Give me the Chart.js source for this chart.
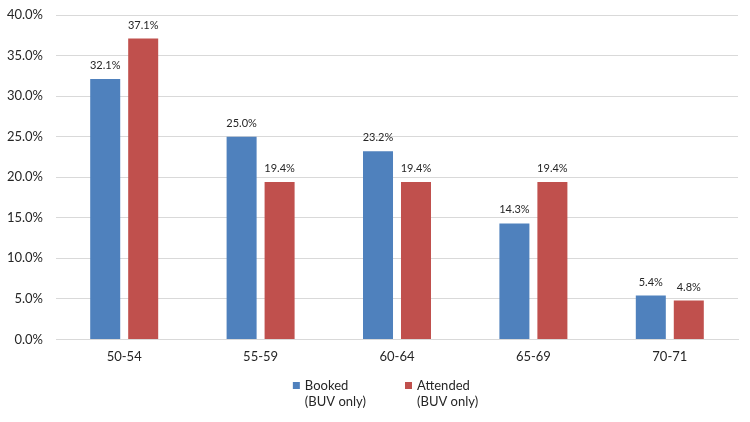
<!DOCTYPE html>
<html>
<head>
<meta charset="utf-8">
<script src="https://cdn.jsdelivr.net/npm/chart.js@4.4.1/dist/chart.umd.min.js"></script>
<style>
  html, body { margin: 0; padding: 0; background: #fff; }
  #wrap { width: 750px; height: 422px; position: relative; }
</style>
</head>
<body>
<div id="wrap"><canvas id="chart"></canvas></div>
<script>
const ageGroups = ["50-54", "55-59", "60-64", "65-69", "70-71"];
const bookedPct = [32.1, 25.0, 23.2, 14.3, 5.4];
const attendedPct = [37.1, 19.4, 19.4, 19.4, 4.8];
const bookedLabel = ["Booked", "(BUV only)"];
const attendedLabel = ["Attended", "(BUV only)"];

const FONT = "Lato, 'Liberation Sans', sans-serif";
const TEXT = "#262626";

/* ---------- value labels above bars ---------- */
const barLabels = {
  id: "barLabels",
  afterDatasetsDraw(chart) {
    const ctx = chart.ctx;
    ctx.save();
    ctx.font = "11px " + FONT;
    ctx.fillStyle = TEXT;
    ctx.textAlign = "center";
    ctx.textBaseline = "bottom";
    chart.data.datasets.forEach((ds, i) => {
      chart.getDatasetMeta(i).data.forEach((bar, j) => {
        ctx.fillText(ds.data[j].toFixed(1) + "%", bar.x, bar.y - 8);
      });
    });
    ctx.restore();
  }
};

/* ---------- two-line legend under the axis ---------- */
const twoLineLegend = {
  id: "twoLineLegend",
  afterDraw(chart) {
    const ctx = chart.ctx;
    const itemGap = 39;
    const box = 7;
    ctx.save();
    ctx.font = "13px " + FONT;
    const items = chart.data.datasets.map((ds) => {
      const w = Math.max(...ds.label.map((l) => ctx.measureText(l).width));
      return { ds, w: box + 5 + w };
    });
    const total = items.reduce((s, it) => s + it.w, 0) + itemGap * (items.length - 1);
    let x = (chart.width - total) / 2 + 10.5;
    const y1 = 386;
    const lh = 16;
    ctx.textBaseline = "middle";
    ctx.textAlign = "left";
    items.forEach((it) => {
      ctx.fillStyle = it.ds.backgroundColor;
      ctx.fillRect(x, y1 - 4, box, box);
      ctx.fillStyle = TEXT;
      it.ds.label.forEach((line, k) => ctx.fillText(line, x + box + 5, y1 + k * lh));
      x += it.w + itemGap;
    });
    ctx.restore();
  }
};

new Chart(document.getElementById("chart"), {
  type: "bar",
  data: {
    labels: ageGroups,
    datasets: [
      { label: bookedLabel, data: bookedPct, backgroundColor: "#4F81BD" },
      { label: attendedLabel, data: attendedPct, backgroundColor: "#C0504D" }
    ]
  },
  options: {
    responsive: true,
    maintainAspectRatio: false,
    animation: false,
    categoryPercentage: 0.557,
    barPercentage: 0.79,
    layout: { padding: { top: 0, right: 12, left: 0, bottom: 47 } },
    plugins: {
      tooltip: { enabled: false },
      legend: { display: false }
    },
    scales: {
      x: {
        grid: { display: false, drawTicks: false },
        border: { color: "#d9d9d9" },
        ticks: { font: { family: FONT, size: 13 }, color: TEXT, padding: 10 }
      },
      y: {
        min: 0,
        max: 40,
        grid: { color: "#d9d9d9", drawTicks: false },
        border: { display: false },
        afterFit(scale) { scale.width = 56; scale.paddingTop = 15; },
        ticks: {
          stepSize: 5,
          padding: 13,
          font: { family: FONT, size: 13 },
          color: TEXT,
          callback: (v) => v.toFixed(1) + "%"
        }
      }
    }
  },
  plugins: [barLabels, twoLineLegend]
});
</script>
</body>
</html>
